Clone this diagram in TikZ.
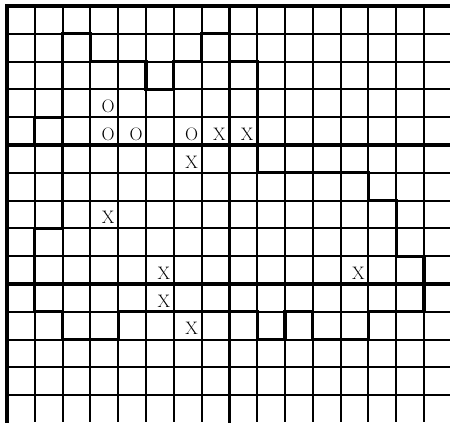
\documentclass[tikz,border=0pt]{standalone}
\begin{document}
\begin{tikzpicture}[x=1cm,y=-1cm,
  gridline/.style={line width=2pt},
  majorline/.style={line width=3.3pt,line cap=rect},
  regionline/.style={line width=3.3pt,line join=miter,line cap=rect},
  cellmark/.style={font=\fontsize{18.5}{20}\selectfont,inner sep=0pt,xshift=4pt,yshift=-3pt}]
\useasboundingbox (-0.252,-0.216) rectangle (15.935,14.964);
% thin grid
\foreach \c in {0,...,15} \draw[gridline] (\c,0) -- (\c,14.964);
\foreach \r in {0,...,14} \draw[gridline] (0,\r) -- (15.935,\r);
% major lines
\foreach \r in {0,5,10} \draw[majorline] (0,\r) -- (16.2,\r);
\foreach \c in {0,8} \draw[majorline] (\c,0) -- (\c,15.2);
% region boundary
\draw[regionline] (2,1) -- (3,1) -- (3,2) -- (5,2) -- (5,3) -- (6,3) -- (6,2) -- (7,2) -- (7,1) -- (8,1) -- (8,2) -- (9,2) -- (9,6) -- (13,6) -- (13,7) -- (14,7) -- (14,9) -- (15,9) -- (15,11) -- (13,11) -- (13,12) -- (11,12) -- (11,11) -- (10,11) -- (10,12) -- (9,12) -- (9,11) -- (4,11) -- (4,12) -- (2,12) -- (2,11) -- (1,11) -- (1,8) -- (2,8) -- cycle;
\draw[regionline] (2,4) -- (1,4) -- (1,5);
% marks
\node[cellmark] (o1) at (3.5,3.5) {O};
\node[cellmark] (o2) at (3.5,4.5) {O};
\node[cellmark] (o3) at (4.5,4.5) {O};
\node[cellmark] (o4) at (6.5,4.5) {O};
\node[cellmark] (x1) at (7.5,4.5) {X};
\node[cellmark] (x2) at (8.5,4.5) {X};
\node[cellmark] (x3) at (6.5,5.5) {X};
\node[cellmark] (x4) at (3.5,7.5) {X};
\node[cellmark] (x5) at (5.5,9.5) {X};
\node[cellmark] (x6) at (12.5,9.5) {X};
\node[cellmark] (x7) at (5.5,10.5) {X};
\node[cellmark] (x8) at (6.5,11.5) {X};
\end{tikzpicture}
\end{document}
